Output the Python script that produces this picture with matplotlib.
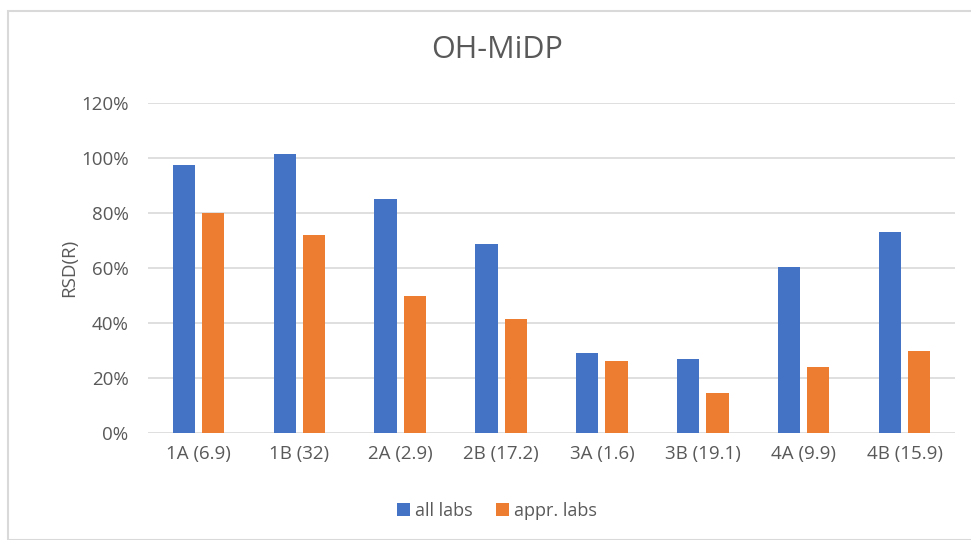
import matplotlib
matplotlib.use("Agg")
import matplotlib.pyplot as plt
import numpy as np
from matplotlib.ticker import PercentFormatter
from matplotlib.patches import Rectangle

categories = ["1A (6.9)", "1B (32)", "2A (2.9)", "2B (17.2)", "3A (1.6)", "3B (19.1)", "4A (9.9)", "4B (15.9)"]
all_labs = [97.6, 101.6, 85.1, 68.7, 29.0, 26.8, 60.4, 73.1]
appr_labs = [80.0, 71.9, 49.8, 41.4, 26.1, 14.5, 23.9, 29.8]
yticks = [0, 20, 40, 60, 80, 100, 120]

plt.rcParams['font.family'] = ['Open Sans', 'DejaVu Sans']
txt = '#595959'

fig = plt.figure(figsize=(9.71, 5.40), dpi=100)
fig.patches.append(Rectangle((8/971, 0), 1.0, (540-11)/540, transform=fig.transFigure,
                             fill=False, edgecolor='#d9d9d9', linewidth=1.5))
ax = fig.add_axes([148/971, (540-432.7)/540, (955-148)/971, (432.7-103.3)/540])

x = np.arange(len(categories))
w = 0.22
ax.bar(x - 0.145, all_labs, w, color='#4472c4', label='all labs', zorder=3)
ax.bar(x + 0.145, appr_labs, w, color='#ed7d31', label='appr. labs', zorder=3)

ax.set_xlim(-0.5, len(categories) - 0.5)
ax.set_ylim(0, 120)
ax.set_yticks(yticks)
ax.yaxis.set_major_formatter(PercentFormatter(decimals=0))
ax.set_xticks(x)
ax.set_xticklabels(categories)
ax.tick_params(axis='both', length=0, colors=txt, labelsize=13.5)
ax.tick_params(axis='x', pad=9)
ax.tick_params(axis='y', pad=14)
ax.grid(axis='y', color='#d9d9d9', linewidth=1.2, zorder=0)
for s in ax.spines.values():
    s.set_visible(False)
ax.set_ylabel('RSD(R)', color=txt, fontsize=13.5, labelpad=2)

fig.text(497/971, 1 - 50/540, 'OH-MiDP', ha='center', va='center', fontsize=22, color=txt)
fig.legend(loc='center', bbox_to_anchor=(497/971, 1 - 511/540), ncol=2, frameon=False,
           fontsize=13, labelcolor=txt, handlelength=0.7, handleheight=0.7,
           handletextpad=0.3, columnspacing=1.3)

fig.savefig('out.png', dpi=100)
